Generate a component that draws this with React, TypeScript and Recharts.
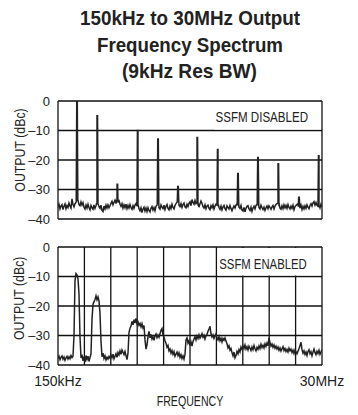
import { LineChart, Line, XAxis, YAxis, CartesianGrid } from "recharts"

const FONT = "'Liberation Sans', Arial, sans-serif"
const INK = "#222"

// sweep 150kHz .. 30MHz, evenly spaced points
const START_MHZ = 0.15
const STOP_MHZ = 30
const GRID_MHZ = [0.15, 3.135, 6.12, 9.105, 12.09, 15.075, 18.06, 21.045, 24.03, 27.015, 30]
const DBC_TICKS = [0, -10, -20, -30, -40]

// SSFM disabled: noise floor (dBc)
const DISABLED_FLOOR = [
    -36.0, -35.0, -36.6, -35.6, -35.1, -36.8, -35.7, -34.9, -36.5, -35.4,
    -36.1, -34.6, -35.6, -36.3, -33.2, -35.1, -35.9, -34.8, -34.4, -34.0,
    -33.6, -35.1, -35.5, -34.2, -35.3, -34.5, -36.0, -36.6, -35.3, -36.3,
    -35.0, -36.1, -36.9, -35.4, -36.2, -36.7, -35.2, -36.4, -35.5, -34.8,
    -34.6, -35.8, -36.4, -35.3, -37.1, -37.5, -35.6, -36.6, -35.3, -36.3,
    -35.2, -36.2, -35.5, -34.7, -34.0, -35.2, -34.3, -33.6, -34.8, -33.8,
    -34.5, -33.7, -35.0, -35.7, -34.8, -36.3, -35.2, -36.2, -35.0, -36.5,
    -35.4, -36.3, -35.1, -36.1, -36.7, -35.5, -36.4, -35.3, -34.8, -34.5,
    -35.6, -36.5, -37.2, -36.2, -37.8, -36.6, -36.0, -37.3, -36.3, -37.5,
    -36.2, -37.1, -37.6, -36.4, -35.8, -37.0, -36.1, -37.2, -35.7, -35.3,
    -35.0, -36.2, -36.7, -35.2, -36.0, -36.5, -35.3, -36.8, -35.7, -35.1,
    -36.4, -36.9, -35.6, -36.5, -35.0, -36.1, -36.6, -35.4, -34.8, -34.3,
    -34.2, -35.3, -35.8, -34.8, -36.1, -35.1, -34.6, -35.9, -36.2, -35.0,
    -35.8, -34.7, -34.2, -35.5, -33.4, -34.4, -35.0, -33.7, -34.8, -34.6,
    -35.5, -36.0, -34.8, -33.9, -34.7, -35.8, -36.3, -35.2, -36.5, -35.6,
    -35.3, -36.4, -36.8, -35.5, -36.2, -35.2, -36.6, -35.6, -35.0, -34.8,
    -35.3, -36.1, -36.7, -35.6, -36.9, -35.9, -35.4, -36.5, -37.0, -35.5,
    -36.1, -36.6, -35.4, -36.4, -37.2, -36.3, -35.6, -36.3, -35.3, -34.8,
    -35.4, -36.0, -36.4, -35.4, -37.0, -37.3, -36.1, -37.6, -36.4, -35.7,
    -35.5, -36.6, -37.1, -36.0, -37.4, -36.3, -35.7, -36.6, -35.4, -35.1,
    -35.4, -36.1, -36.6, -35.3, -36.2, -36.8, -36.0, -37.1, -36.2, -35.6,
    -36.5, -35.5, -36.1, -36.7, -35.9, -35.4, -36.6, -35.6, -35.1, -34.8,
    -34.7, -35.7, -36.3, -36.7, -35.5, -36.5, -35.2, -36.2, -35.4, -36.4,
    -35.1, -36.1, -36.6, -35.6, -36.4, -35.3, -36.9, -35.8, -35.4, -35.0,
    -34.8, -35.8, -36.3, -35.3, -36.8, -35.7, -36.6, -35.5, -36.4, -35.2,
    -36.0, -36.5, -35.4, -34.8, -35.6, -34.5, -34.1, -35.3, -34.4, -35.4,
    -34.6, -35.7, -36.2, -35.0, -35.9,
]

// SSFM disabled: switching harmonics
const SPIKE_MHZ = [2.3, 4.59, 6.86, 9.16, 11.46, 13.72, 15.9, 18.21, 20.5, 22.76, 25.06, 27.4, 29.63]
const SPIKE_DBC = [0, -5, -28.2, -10, -12.6, -28.7, -12.4, -16.4, -24.3, -18.9, -21.3, -32.4, -18.6]

// SSFM enabled: spread spectrum trace (dBc)
const ENABLED_TRACE = [
    -37.8, -37.0, -38.2, -37.4, -36.9, -38.0, -37.3, -38.4, -37.6, -37.1,
    -38.0, -37.2, -37.9, -36.8, -37.5, -37.0, -30.0, -11.5, -9.0, -9.4,
    -10.8, -16.0, -30.5, -37.6, -36.5, -38.6, -37.2, -39.0, -36.8, -38.1,
    -37.0, -38.8, -37.4, -36.2, -24.5, -19.4, -18.6, -17.8, -16.6, -17.9,
    -16.9, -18.3, -22.5, -32.0, -37.2, -36.0, -37.8, -36.9, -38.3, -37.4,
    -38.0, -37.1, -37.7, -36.6, -37.5, -36.3, -37.9, -37.0, -36.2, -37.4,
    -35.8, -36.6, -35.2, -36.4, -34.9, -35.7, -36.5, -35.4, -36.8, -38.2,
    -36.0, -29.0, -27.5, -26.8, -25.2, -26.4, -24.6, -25.8, -24.2, -26.0,
    -25.4, -26.6, -25.9, -27.1, -26.0, -27.4, -26.6, -31.5, -34.6, -33.2,
    -30.4, -28.6, -30.8, -29.6, -31.2, -30.4, -31.6, -30.1, -29.5, -30.7,
    -29.8, -30.6, -29.4, -28.2, -27.6, -29.9, -30.5, -31.8, -32.6, -34.0,
    -33.4, -35.2, -34.6, -36.0, -35.1, -36.4, -35.5, -37.0, -36.3, -35.6,
    -36.8, -35.9, -37.4, -36.5, -37.8, -36.9, -38.0, -36.4, -31.5, -30.8,
    -32.6, -31.8, -33.4, -32.2, -33.6, -32.0, -31.2, -30.4, -31.5, -30.2,
    -31.0, -29.8, -30.9, -30.3, -29.4, -30.6, -29.9, -31.2, -30.1, -29.6,
    -28.6, -27.8, -26.9, -29.4, -30.5, -29.8, -31.0, -30.2, -29.5, -30.8,
    -31.5, -30.4, -31.8, -30.9, -32.2, -31.0, -31.6, -30.8, -31.9, -32.8,
    -34.2, -33.5, -35.0, -34.4, -35.8, -36.9, -35.6, -37.6, -36.8, -35.4,
    -36.2, -34.8, -35.6, -33.9, -34.7, -33.5, -34.4, -33.2, -34.6, -33.8,
    -34.9, -33.6, -34.3, -35.1, -33.9, -34.8, -33.4, -34.5, -35.2, -34.0,
    -34.7, -33.5, -34.4, -33.0, -34.1, -33.3, -34.2, -32.8, -33.7, -32.6,
    -33.5, -30.8, -32.4, -33.6, -32.9, -34.0, -33.2, -34.3, -33.6, -34.6,
    -33.9, -35.0, -34.2, -35.3, -34.5, -33.8, -35.1, -34.4, -35.4, -34.7,
    -35.6, -34.3, -35.2, -34.6, -35.8, -35.0, -36.1, -34.9, -35.5, -36.2,
    -35.3, -34.5, -33.4, -32.3, -34.8, -36.0, -35.2, -36.4, -35.6, -36.8,
    -35.4, -34.8, -36.2, -35.5, -36.9, -35.7, -34.6, -35.8, -36.5, -35.3,
    -36.1, -35.0, -36.4, -35.6, -34.8,
]

const sweepMhz = (i: number, n: number) => START_MHZ + (i * (STOP_MHZ - START_MHZ)) / (n - 1)

const disabledData = (() => {
    const n = DISABLED_FLOOR.length
    const pts = DISABLED_FLOOR.map((v, i) => ({ f: sweepMhz(i, n), v }))
    SPIKE_MHZ.forEach((f, k) => {
        const idx = Math.round(((f - START_MHZ) / (STOP_MHZ - START_MHZ)) * (n - 1))
        const base = DISABLED_FLOOR[Math.min(idx, n - 1)]
        // spike drawn with a narrow flat top so it reads ~2px wide like the scope trace
        pts.push(
            { f: f - 0.09, v: base },
            { f: f - 0.03, v: SPIKE_DBC[k] },
            { f: f + 0.03, v: SPIKE_DBC[k] },
            { f: f + 0.09, v: base },
        )
    })
    return pts.sort((a, b) => a.f - b.f)
})()

const enabledData = ENABLED_TRACE.map((v, i) => ({ f: sweepMhz(i, ENABLED_TRACE.length), v }))

const dbcLabel = (v: number) => (v === 0 ? "0" : "\u2013" + Math.abs(v))
const freqLabel = (v: number) => (v === START_MHZ ? "150kHz" : v === STOP_MHZ ? "30MHz" : "")

const tickStyle = { fill: INK, fontSize: 13, fontFamily: FONT }

const Panel = ({ data, top, showFreq }: { data: { f: number, v: number }[], top: number, showFreq: boolean }) => {
    const xHeight = showFreq ? 30 : 0
    const height = showFreq ? 415 : 230
    return (
        <div style={{ position: "absolute", left: 0, top: 0 }}>
            <LineChart width={358} height={height} data={data}
                margin={{ top, left: 38, right: 36, bottom: height - top - 118 - xHeight }}>
                <CartesianGrid stroke="#111" strokeWidth={1.3} fill="#fff" />
                <XAxis type="number" dataKey="f" domain={[START_MHZ, STOP_MHZ]} ticks={GRID_MHZ}
                    allowDataOverflow height={xHeight} axisLine={false} tickLine={false}
                    tick={showFreq ? { ...tickStyle, fontSize: 14 } : false}
                    tickFormatter={freqLabel} tickMargin={5} interval={0} />
                <YAxis type="number" domain={[-40, 0]} ticks={DBC_TICKS} width={20}
                    allowDataOverflow axisLine={false} tickLine={false}
                    tick={tickStyle} tickFormatter={dbcLabel} interval={0} />
                <Line type="linear" dataKey="v" stroke="#222" strokeWidth={1.5}
                    dot={false} isAnimationActive={false} />
            </LineChart>
        </div>
    )
}

const App = () => {
    return (
        <div style={{ position: "absolute", left: 0, top: 0, width: 358, height: 415, background: "#fff" }}>
            <Panel data={disabledData} top={101} showFreq={false} />
            <Panel data={enabledData} top={247} showFreq={true} />
            <svg width={358} height={415} style={{ position: "absolute", left: 0, top: 0, pointerEvents: "none" }}
                fontFamily={FONT} fill={INK}>
                <g fontWeight="bold" fontSize={21} textAnchor="middle">
                    <text x={190} y={25} textLength={220} lengthAdjust="spacingAndGlyphs">150kHz to 30MHz Output</text>
                    <text x={190} y={51.5} textLength={186} lengthAdjust="spacingAndGlyphs">Frequency Spectrum</text>
                    <text x={189.5} y={77.5} textLength={135} lengthAdjust="spacingAndGlyphs">(9kHz Res BW)</text>
                </g>
                {/* label boxes blank the grid behind the mode captions */}
                <rect x={214} y={102} width={107} height={27.5} fill="#fff" />
                <rect x={218} y={248} width={103} height={27.5} fill="#fff" />
                <text x={215.5} y={122.3} fontSize={14.5} textLength={92.5} lengthAdjust="spacingAndGlyphs">SSFM DISABLED</text>
                <text x={219.3} y={269.3} fontSize={14} textLength={87.4} lengthAdjust="spacingAndGlyphs">SSFM ENABLED</text>
                <text x={156.7} y={406} fontSize={14} textLength={66.6} lengthAdjust="spacingAndGlyphs">FREQUENCY</text>
                <text x={24.5} y={150} fontSize={14} textAnchor="middle" textLength={83.4} lengthAdjust="spacingAndGlyphs"
                    transform="rotate(-90 24.5 150)">OUTPUT (dBc)</text>
                <text x={24.5} y={298.3} fontSize={14} textAnchor="middle" textLength={83.4} lengthAdjust="spacingAndGlyphs"
                    transform="rotate(-90 24.5 298.3)">OUTPUT (dBc)</text>
            </svg>
        </div>
    )
}

export default App
